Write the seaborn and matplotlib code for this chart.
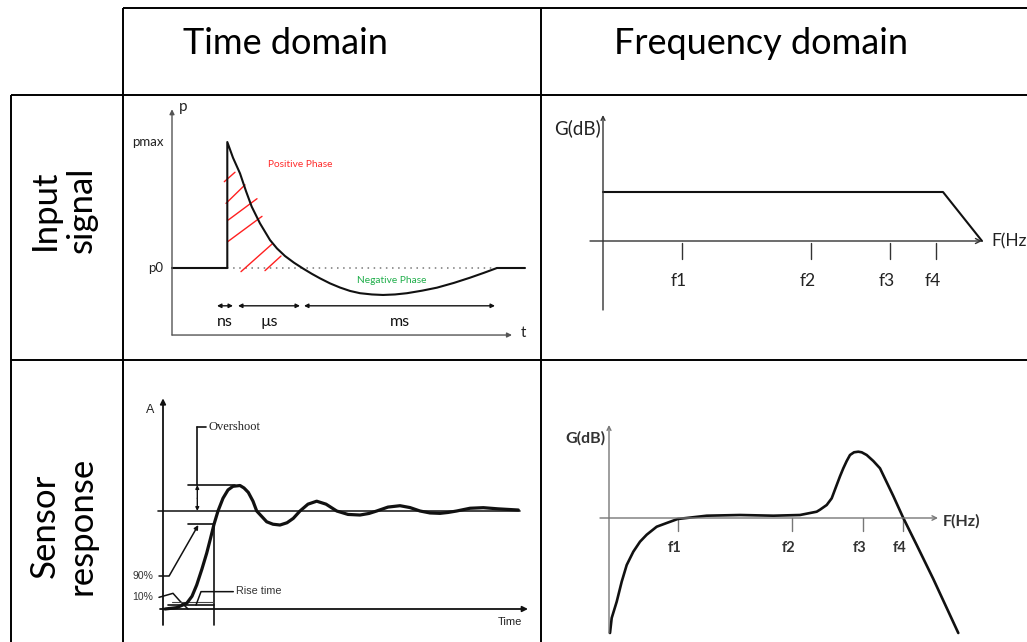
import numpy as np
import pandas as pd
import matplotlib
matplotlib.use("Agg")
import matplotlib.pyplot as plt
import seaborn as sns

# ---------------- data ----------------
col_headers = ["Time domain", "Frequency domain"]
row_headers = ["Input\nsignal", "Sensor\nresponse"]

# Panel 1: input signal in time domain (p relative to p0 = 0, pmax = 1)
pulse_t = [0.0, 5.53, 5.53, 6.1, 6.8, 7.4, 7.97, 8.8, 9.8, 10.5, 11.3, 12.2, 13.1,
           14.0, 14.8, 15.8, 16.8, 17.8, 18.8, 20.0, 21.1, 22.3, 23.5, 25.0, 26.5,
           28.2, 29.8, 31.2, 32.5, 35.3]
pulse_p = [0.0, 0.0, 1.0, 0.875, 0.751, 0.61, 0.487, 0.354, 0.222, 0.155, 0.095, 0.042, -0.004,
           -0.047, -0.082, -0.122, -0.155, -0.182, -0.2, -0.21, -0.214, -0.21, -0.2, -0.18, -0.156,
           -0.118, -0.077, -0.038, 0.0, 0.0]
hatch_t0 = [5.23, 5.4, 5.63, 5.57, 6.9, 9.3]
hatch_p0 = [0.685, 0.513, 0.381, 0.209, -0.029, -0.021]
hatch_t1 = [6.3, 7.3, 8.5, 9.0, 10.0, 10.9]
hatch_p1 = [0.76, 0.66, 0.55, 0.41, 0.19, 0.095]
span_labels = ["ns", "\u00b5s", "ms"]
span_start = [4.5, 6.6, 13.2]
span_end = [6.1, 12.8, 32.3]

# Panel 2: input signal spectrum
in_freq = [0.0, 34.0, 37.9]
in_gain = [4.9, 4.9, 0.0]
in_tick_pos = [7.9, 20.8, 28.7, 33.3]
tick_labels = ["f1", "f2", "f3", "f4"]

# Panel 3: sensor step response (steady state = 1)
resp_t = [0.2, 1.37, 2.37, 2.9, 3.37, 3.9, 4.37, 4.75, 5.1, 5.5, 6.0, 6.5, 7.0, 7.7,
          8.1, 8.53, 9.0, 9.37, 10.37, 11.0, 11.7, 12.4, 13.03, 13.7, 14.5, 15.37,
          16.3, 17.37, 18.5, 19.7, 20.6, 21.37, 22.5, 23.7, 24.7, 25.7, 26.7, 27.7,
          28.5, 29.37, 30.7, 32.03, 33.5, 35.53]
resp_a = [0.0, 0.014, 0.058, 0.13, 0.245, 0.41, 0.57, 0.72, 0.864, 1.0, 1.13, 1.215,
          1.252, 1.26, 1.235, 1.19, 1.1, 1.0, 0.89, 0.865, 0.857, 0.88, 0.925, 1.0,
          1.07, 1.1, 1.07, 1.0, 0.965, 0.959, 0.975, 1.0, 1.04, 1.054, 1.035, 1.0,
          0.98, 0.976, 0.985, 1.0, 1.028, 1.034, 1.022, 1.01]
overshoot_level = 1.265
level_90 = 0.864
rise_t90 = 5.1

# Panel 4: sensor frequency response
out_freq = [0.1, 0.27, 0.77, 1.27, 1.77, 2.43, 3.1, 3.77, 4.77, 5.77, 6.87, 9.77, 13.1,
            16.43, 19.1, 20.77, 21.1, 21.77, 22.27, 22.77, 23.1, 23.43, 23.77, 24.1,
            24.5, 24.93, 25.27, 25.77, 26.43, 27.1, 28.43, 29.43, 30.77, 32.43, 34.93]
out_gain = [-11.5, -10.0, -8.37, -6.37, -4.7, -3.37, -2.37, -1.67, -0.87, -0.5, -0.1,
            0.23, 0.3, 0.23, 0.3, 0.63, 0.83, 1.3, 1.97, 3.3, 4.17, 4.97, 5.7, 6.3,
            6.57, 6.63, 6.57, 6.3, 5.7, 4.97, 2.2, 0.0, -2.7, -6.1, -11.5]
out_tick_pos = [6.9, 18.3, 25.4, 29.4]

# ---------------- figure ----------------
sns.set_theme(style="white")
plt.rcParams["font.family"] = ["Lato", "DejaVu Sans"]

W, H = 1027, 642
fig = plt.figure(figsize=(W / 100, H / 100), dpi=100)
fig.patch.set_facecolor("white")

# background axes in pixel units for the table frame
bg = fig.add_axes([0, 0, 1, 1])
bg.set_xlim(0, W)
bg.set_ylim(H, 0)
bg.axis("off")
h_lines = [(8, 123, W), (95, 11, W), (360, 11, W)]
v_lines = [(11, 95, H), (123, 8, H), (541, 8, H)]
for y, x0, x1 in h_lines:
    bg.plot([x0, x1], [y, y], color="black", lw=1.4, solid_capstyle="butt")
for x, y0, y1 in v_lines:
    bg.plot([x, x], [y0, y1], color="black", lw=1.4, solid_capstyle="butt")

bg.text(183, 43, col_headers[0], fontsize=26, ha="left", va="center", color="black")
bg.text(614, 43, col_headers[1], fontsize=26, ha="left", va="center", color="black")
bg.text(63, 210, row_headers[0], fontsize=25, rotation=90, ha="center", va="center",
        multialignment="center", color="black", linespacing=1.2)
bg.text(63, 526, row_headers[1], fontsize=25, rotation=90, ha="center", va="center",
        multialignment="center", color="black", linespacing=1.2)


def cell_axes(left, top, right, bottom, x0, sx, y0, sy):
    ax = fig.add_axes([left / W, 1 - bottom / H, (right - left) / W, (bottom - top) / H])
    ax.set_xlim((left - x0) / sx, (right - x0) / sx)
    ax.set_ylim((y0 - bottom) / sy, (y0 - top) / sy)
    ax.axis("off")
    ax.patch.set_alpha(0)
    return ax


def arrow(ax, xy_from, xy_to, style="-|>", color="black", lw=1.0, ms=8):
    ax.annotate("", xy=xy_to, xytext=xy_from,
                arrowprops=dict(arrowstyle=style, color=color, lw=lw,
                                mutation_scale=ms, shrinkA=0, shrinkB=0))


# ---- Panel 1: input, time domain ----
ax1 = cell_axes(124, 96, 540, 359, 172, 10, 268, 126)
arrow(ax1, (0, -0.532), (0, 1.26), color="#555555", lw=1.0, ms=7)
arrow(ax1, (0, -0.532), (34.0, -0.532), color="#555555", lw=1.0, ms=7)
ax1.plot([5.53, 32.5], [0, 0], color="#777777", lw=1.1, ls=(0, (1, 3)))
for a, b, c, d in zip(hatch_t0, hatch_p0, hatch_t1, hatch_p1):
    ax1.plot([a, c], [b, d], color="#ff2020", lw=1.0)
sns.lineplot(x=pulse_t, y=pulse_p, ax=ax1, color="#111111", lw=1.5,
             sort=False, estimator=None)
ax1.text(0.7, 1.28, "p", fontsize=11, ha="left", va="center", color="#222222")
ax1.text(-0.8, 1.0, "pmax", fontsize=9.5, ha="right", va="center", color="#222222")
ax1.text(-0.9, 0.0, "p0", fontsize=9.5, ha="right", va="center", color="#222222")
ax1.text(35.1, -0.516, "t", fontsize=11, ha="center", va="center", color="#222222")
ax1.text(12.8, 0.825, "Positive Phase", fontsize=7.3, ha="center", va="center", color="#ff2a2a")
ax1.text(22.0, -0.103, "Negative Phase", fontsize=7.3, ha="center", va="center", color="#1fae4a")
for lab, s, e in zip(span_labels, span_start, span_end):
    arrow(ax1, (s, -0.30), (e, -0.30), style="<|-|>", color="#111111", lw=1.0, ms=6)
    ax1.text((s + e) / 2, -0.43, lab, fontsize=11.5, ha="center", va="center", color="#111111")

# ---- Panel 2: input, frequency domain ----
ax2 = cell_axes(542, 96, W, 359, 603, 10, 241, 10)
arrow(ax2, (0, -6.9), (0, 12.6), style="->", color="#333333", lw=1.0, ms=7)
arrow(ax2, (-1.3, 0), (37.9, 0), style="->", color="#333333", lw=1.0, ms=9)
for f in in_tick_pos:
    ax2.plot([f, f], [-0.2, -1.8], color="#333333", lw=1.0)
for f, lab in zip(in_tick_pos, tick_labels):
    ax2.text(f - 0.3, -4.0, lab, fontsize=12.5, ha="center", va="center", color="#222222")
sns.lineplot(x=in_freq, y=in_gain, ax=ax2, color="#111111", lw=1.5,
             sort=False, estimator=None)
ax2.text(-0.2, 11.3, "G(dB)", fontsize=13.5, ha="right", va="center", color="#222222")
ax2.text(38.8, 0.0, "F(Hz)", fontsize=12.5, ha="left", va="center", color="#222222")

# ---- Panel 3: sensor response, time domain ----
ax3 = cell_axes(124, 361, 540, H, 163, 10, 609, 98)
arrow(ax3, (0, -0.163), (0, 2.15), color="#111111", lw=1.3, ms=8)
arrow(ax3, (-0.3, 0), (36.5, 0), color="#111111", lw=1.3, ms=8)
ax3.plot([-0.47, 35.7], [1, 1], color="#222222", lw=1.2)
# overshoot marker
ax3.plot([3.43, 3.43], [1.86, overshoot_level], color="#111111", lw=1.2)
ax3.plot([3.43, 4.3], [1.86, 1.86], color="#111111", lw=1.2)
arrow(ax3, (3.43, 1.13), (3.43, overshoot_level), color="#111111", lw=1.0, ms=5)
arrow(ax3, (3.43, 1.13), (3.43, 1.0), color="#111111", lw=1.0, ms=5)
ax3.plot([2.53, 7.2], [overshoot_level, overshoot_level], color="#111111", lw=1.2)
ax3.plot([2.53, rise_t90], [level_90, level_90], color="#111111", lw=1.2)
ax3.plot([rise_t90, rise_t90], [level_90, -0.163], color="#111111", lw=1.2)
# 90 % pointer
ax3.plot([-0.4, 0.63], [0.34, 0.34], color="#111111", lw=1.1)
arrow(ax3, (0.63, 0.34), (3.53, 0.857), color="#111111", lw=1.1, ms=6)
# 10 % pointer
ax3.plot([-0.4, 1.0, 1.7, 2.5], [0.119, 0.16, 0.08, 0.0], color="#111111", lw=1.1)
# rise time span
ax3.plot([0.53, rise_t90], [0.04, 0.04], color="#111111", lw=1.2)
ax3.plot([0.9, rise_t90], [0.075, 0.075], color="#444444", lw=0.8)
ax3.plot([3.3, 3.8, 7.03], [0.04, 0.177, 0.177], color="#111111", lw=1.1)
sns.lineplot(x=resp_t, y=resp_a, ax=ax3, color="#111111", lw=2.3,
             sort=False, estimator=None)
sans = ["Liberation Sans", "DejaVu Sans"]
ax3.text(-1.3, 2.03, "A", fontsize=9, ha="center", va="center", color="#222222", family=sans)
ax3.text(4.55, 1.86, "Overshoot", fontsize=9, ha="left", va="center", color="#222222",
         family=["Liberation Serif", "DejaVu Serif"])
ax3.text(7.3, 0.18, "Rise time", fontsize=7.8, ha="left", va="center", color="#333333",
         family=sans)
ax3.text(-1.0, 0.34, "90%", fontsize=7.5, ha="right", va="center", color="#333333", family=sans)
ax3.text(-1.0, 0.119, "10%", fontsize=7.5, ha="right", va="center", color="#333333", family=sans)
ax3.text(34.7, -0.13, "Time", fontsize=8, ha="center", va="center", color="#222222", family=sans)

# ---- Panel 4: sensor response, frequency domain ----
ax4 = cell_axes(542, 361, W, H, 609, 10, 518, 10)
arrow(ax4, (0, -11.5), (0, 9.3), style="->", color="#777777", lw=1.0, ms=7)
arrow(ax4, (-0.9, 0), (32.9, 0), style="->", color="#777777", lw=1.0, ms=8)
for f in out_tick_pos:
    ax4.plot([f, f], [0, -1.3], color="#777777", lw=1.0)
for f, lab in zip(out_tick_pos, tick_labels):
    ax4.text(f - 0.3, -3.0, lab, fontsize=10.5, ha="center", va="center", color="#333333",
             fontweight="bold")
sns.lineplot(x=out_freq, y=out_gain, ax=ax4, color="#111111", lw=1.9,
             sort=False, estimator=None)
ax4.text(-0.4, 8.0, "G(dB)", fontsize=11.5, ha="right", va="center", color="#333333",
         fontweight="bold")
ax4.text(33.4, -0.3, "F(Hz)", fontsize=11.5, ha="left", va="center", color="#333333",
         fontweight="bold")

fig.savefig("out.png", dpi=100, facecolor="white")
